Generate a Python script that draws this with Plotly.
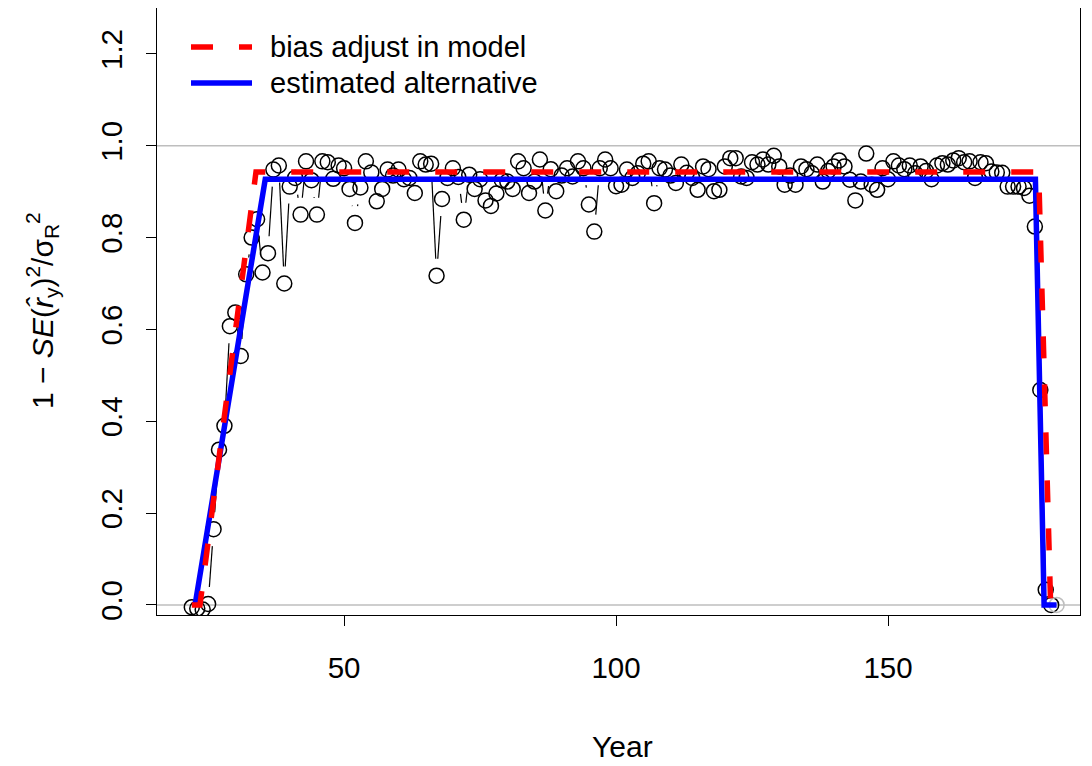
import math
import plotly.graph_objects as go

# ---------------- data ----------------
years = list(range(22, 182))
values = [
    -0.005, -0.008, -0.010, 0.002, 0.165, 0.338, 0.390, 0.607, 0.637, 0.542,   # 22-31
    0.720, 0.800, 0.840, 0.724, 0.766, 0.948, 0.957, 0.700, 0.911, 0.930,      # 32-41
    0.850, 0.966, 0.925, 0.850, 0.966, 0.964, 0.928, 0.957, 0.951, 0.906,      # 42-51
    0.832, 0.909, 0.966, 0.942, 0.879, 0.906, 0.948, 0.935, 0.948, 0.927,      # 52-61
    0.930, 0.897, 0.966, 0.959, 0.961, 0.717, 0.884, 0.930, 0.951, 0.932,      # 62-71
    0.839, 0.937, 0.906, 0.927, 0.881, 0.869, 0.896, 0.925, 0.922, 0.906,      # 72-81
    0.966, 0.951, 0.897, 0.922, 0.970, 0.859, 0.949, 0.901, 0.935, 0.951,      # 82-91
    0.933, 0.966, 0.951, 0.872, 0.813, 0.951, 0.970, 0.951, 0.912, 0.915,      # 92-101
    0.948, 0.930, 0.940, 0.961, 0.966, 0.875, 0.951, 0.948, 0.935, 0.919,      # 102-111
    0.959, 0.941, 0.930, 0.904, 0.955, 0.949, 0.901, 0.904, 0.955, 0.973,      # 112-121
    0.973, 0.933, 0.930, 0.964, 0.959, 0.970, 0.959, 0.978, 0.955, 0.915,      # 122-131
    0.935, 0.915, 0.955, 0.949, 0.940, 0.959, 0.922, 0.945, 0.955, 0.968,      # 132-141
    0.955, 0.926, 0.881, 0.922, 0.983, 0.915, 0.904, 0.951, 0.927, 0.966,      # 142-151
    0.957, 0.949, 0.957, 0.940, 0.955, 0.945, 0.927, 0.957, 0.962, 0.959,      # 152-161
    0.968, 0.973, 0.964, 0.966, 0.930, 0.964, 0.962, 0.944, 0.942, 0.941,      # 162-171
    0.911, 0.911, 0.911, 0.908, 0.891, 0.824, 0.468, 0.033, 0.000, 0.000,      # 172-181
]
point_is_forecast = [False] * (len(years) - 1) + [True]

bias_years = [22.0, 23.5, 33.8, 177.7, 179.9]
bias_values = [0.0, 0.0, 0.943, 0.943, 0.0]

alt_years = [22.6, 35.5, 177.1, 178.7, 181.0]
alt_values = [0.0, 0.927, 0.927, 0.0, 0.0]

x_ticks = [50, 100, 150]
y_ticks = [0.0, 0.2, 0.4, 0.6, 0.8, 1.0, 1.2]
ref_levels = [0.0, 1.0]

legend_labels = ["bias adjust in model", "estimated alternative"]

# ---------------- layout geometry ----------------
# the html page body has an 8px margin; compensate so the plot lands where R drew it
OFF = 8
W, H = 1092 - OFF, 766 - OFF
ml, mr, mt, mb = 157 - OFF, 12, 8 - OFF, 151
pw, ph = W - ml - mr, H - mt - mb
xr = [15.6, 185.3]
yr = [-0.022, 1.300]
sx = pw / (xr[1] - xr[0])
sy = ph / (yr[1] - yr[0])

FONT = "Liberation Sans, Arial, Helvetica, sans-serif"
FS_TICK = 29.5
FS_LEG = 29
FS_TITLE = 30
RED = "#FF0000"
BLUE = "#0000FF"
GREY = "#BEBEBE"

# R type="b": connecting segments stop short of each point
gap = 17.0
lx, ly = [], []
for i in range(len(years) - 1):
    x0, y0, x1, y1 = years[i], values[i], years[i + 1], values[i + 1]
    dx, dy = (x1 - x0) * sx, (y1 - y0) * sy
    d = math.hypot(dx, dy)
    if d > 2 * gap:
        f = gap / d
        lx += [x0 + (x1 - x0) * f, x1 - (x1 - x0) * f, None]
        ly += [y0 + (y1 - y0) * f, y1 - (y1 - y0) * f, None]

fig = go.Figure()

fig.add_trace(go.Scatter(x=lx, y=ly, mode="lines",
                         line=dict(color="black", width=1.2),
                         showlegend=False, hoverinfo="skip"))

fig.add_trace(go.Scatter(
    x=years, y=values, mode="markers",
    marker=dict(symbol="circle-open", size=15,
                color=[GREY if f else "black" for f in point_is_forecast],
                line=dict(width=1.5)),
    showlegend=False))

fig.add_trace(go.Scatter(x=alt_years, y=alt_values, mode="lines",
                         line=dict(color=BLUE, width=5.5),
                         name=legend_labels[1], showlegend=False))

fig.add_trace(go.Scatter(x=bias_years, y=bias_values, mode="lines",
                         line=dict(color=RED, width=5.5, dash="22px,26px"),
                         name=legend_labels[0], showlegend=False))

# reference lines
for lv in ref_levels:
    fig.add_shape(type="line", xref="paper", x0=0, x1=1, yref="y", y0=lv, y1=lv,
                  line=dict(color=GREY, width=1.5), layer="below")


def px_to_paper(px, py):
    """page pixel -> paper coordinate"""
    fx, fy = px - OFF, py - OFF
    return (fx - ml) / pw, (H - mb - fy) / ph


leg_items = [(legend_labels[0], RED, "22px,26px", 47), (legend_labels[1], BLUE, "solid", 83)]
for label, col, dash, py in leg_items:
    xa, ya = px_to_paper(191, py)
    xb, _ = px_to_paper(252, py)
    xt, _ = px_to_paper(268, py)
    fig.add_shape(type="line", xref="paper", yref="paper", x0=xa, x1=xb, y0=ya, y1=ya,
                  line=dict(color=col, width=5.5, dash=dash))
    fig.add_annotation(xref="paper", yref="paper", x=xt, y=ya, text=label,
                       showarrow=False, xanchor="left", yanchor="middle",
                       font=dict(family=FONT, size=FS_LEG, color="black"))

# axis titles
tx, ty = px_to_paper(622, 746)
fig.add_annotation(xref="paper", yref="paper", x=tx, y=ty, text="Year",
                   showarrow=False, xanchor="center", yanchor="middle",
                   font=dict(family=FONT, size=FS_TITLE, color="black"))
tx, ty = px_to_paper(42, 311)
fig.add_annotation(xref="paper", yref="paper", x=tx, y=ty,
                   text="1 \u2212 <i>SE</i>(<i>r\u0302</i><sub>y</sub>)<sup>2</sup>/\u03c3<sub>R</sub><sup>2</sup>",
                   showarrow=False, xanchor="center", yanchor="middle", textangle=-90,
                   font=dict(family=FONT, size=FS_TITLE, color="black"))

fig.update_layout(
    width=W, height=H,
    margin=dict(l=ml, r=mr, t=mt, b=mb, pad=0),
    paper_bgcolor="white", plot_bgcolor="white",
    font=dict(family=FONT, size=FS_TICK, color="black"),
    showlegend=False,
)
fig.update_xaxes(range=xr, tickvals=x_ticks, ticks="outside", ticklen=10, tickwidth=1,
                 tickcolor="black", showline=True, linecolor="black", linewidth=1,
                 mirror=True, showgrid=False, zeroline=False,
                 tickfont=dict(family=FONT, size=FS_TICK), ticklabelstandoff=17)
fig.update_yaxes(range=yr, tickvals=y_ticks, ticktext=[f"{v:.1f}" for v in y_ticks],
                 ticks="outside", ticklen=10, tickwidth=1, tickangle=-90,
                 tickcolor="black", showline=True, linecolor="black", linewidth=1,
                 mirror=True, showgrid=False, zeroline=False,
                 tickfont=dict(family=FONT, size=FS_TICK), ticklabelstandoff=12)

fig.write_html("out.html")
